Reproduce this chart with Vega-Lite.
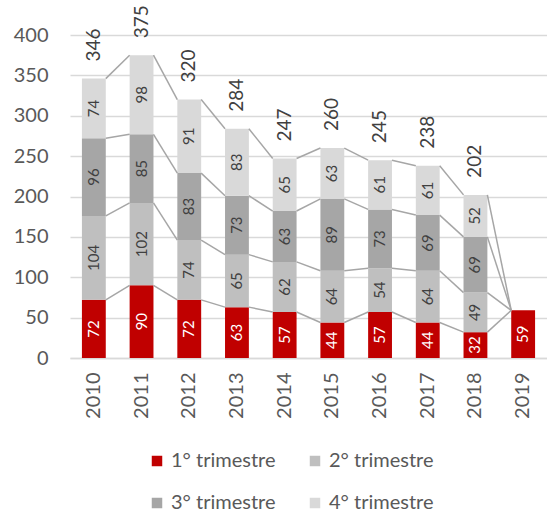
{
  "$schema": "https://vega.github.io/schema/vega-lite/v6.json",
  "width": 477,
  "height": 323,
  "autosize": {"type": "none"},
  "padding": {"left": 70, "top": 35, "right": 0, "bottom": 158},
  "background": "white",
  "config": {
    "font": "Lato",
    "view": {"stroke": null},
    "axis": {"labelFont": "Lato", "labelColor": "#595959", "titleColor": "#595959"}
  },
  "data": {
    "values": [
      {"year": "2010", "q": "1° trimestre", "v": 72},
      {"year": "2010", "q": "2° trimestre", "v": 104},
      {"year": "2010", "q": "3° trimestre", "v": 96},
      {"year": "2010", "q": "4° trimestre", "v": 74},
      {"year": "2011", "q": "1° trimestre", "v": 90},
      {"year": "2011", "q": "2° trimestre", "v": 102},
      {"year": "2011", "q": "3° trimestre", "v": 85},
      {"year": "2011", "q": "4° trimestre", "v": 98},
      {"year": "2012", "q": "1° trimestre", "v": 72},
      {"year": "2012", "q": "2° trimestre", "v": 74},
      {"year": "2012", "q": "3° trimestre", "v": 83},
      {"year": "2012", "q": "4° trimestre", "v": 91},
      {"year": "2013", "q": "1° trimestre", "v": 63},
      {"year": "2013", "q": "2° trimestre", "v": 65},
      {"year": "2013", "q": "3° trimestre", "v": 73},
      {"year": "2013", "q": "4° trimestre", "v": 83},
      {"year": "2014", "q": "1° trimestre", "v": 57},
      {"year": "2014", "q": "2° trimestre", "v": 62},
      {"year": "2014", "q": "3° trimestre", "v": 63},
      {"year": "2014", "q": "4° trimestre", "v": 65},
      {"year": "2015", "q": "1° trimestre", "v": 44},
      {"year": "2015", "q": "2° trimestre", "v": 64},
      {"year": "2015", "q": "3° trimestre", "v": 89},
      {"year": "2015", "q": "4° trimestre", "v": 63},
      {"year": "2016", "q": "1° trimestre", "v": 57},
      {"year": "2016", "q": "2° trimestre", "v": 54},
      {"year": "2016", "q": "3° trimestre", "v": 73},
      {"year": "2016", "q": "4° trimestre", "v": 61},
      {"year": "2017", "q": "1° trimestre", "v": 44},
      {"year": "2017", "q": "2° trimestre", "v": 64},
      {"year": "2017", "q": "3° trimestre", "v": 69},
      {"year": "2017", "q": "4° trimestre", "v": 61},
      {"year": "2018", "q": "1° trimestre", "v": 32},
      {"year": "2018", "q": "2° trimestre", "v": 49},
      {"year": "2018", "q": "3° trimestre", "v": 69},
      {"year": "2018", "q": "4° trimestre", "v": 52},
      {"year": "2019", "q": "1° trimestre", "v": 59},
      {"year": "2019", "q": "2° trimestre", "v": 0},
      {"year": "2019", "q": "3° trimestre", "v": 0},
      {"year": "2019", "q": "4° trimestre", "v": 0}
    ]
  },
  "encoding": {
    "x": {
      "field": "year",
      "type": "ordinal",
      "scale": {"paddingInner": 0.5, "paddingOuter": 0.25},
      "axis": {
        "title": null,
        "labelAngle": -90,
        "labelFontSize": 20,
        "labelPadding": 14,
        "ticks": false,
        "domainColor": "#D9D9D9",
        "domainWidth": 1.5,
        "grid": false
      }
    }
  },
  "layer": [
    {
      "mark": {"type": "bar"},
      "encoding": {
        "y": {
          "field": "v",
          "type": "quantitative",
          "stack": "zero",
          "scale": {"domain": [0, 400], "nice": false},
          "axis": {
            "title": null,
            "values": [0, 50, 100, 150, 200, 250, 300, 350, 400],
            "labelFontSize": 20,
            "labelPadding": 22,
            "ticks": false,
            "domain": false,
            "gridColor": "#D9D9D9",
            "gridWidth": 1.5
          }
        },
        "order": {"field": "q"},
        "color": {
          "field": "q",
          "type": "nominal",
          "scale": {
            "domain": ["1° trimestre", "2° trimestre", "3° trimestre", "4° trimestre"],
            "range": ["#C00000", "#BFBFBF", "#A6A6A6", "#D9D9D9"]
          },
          "legend": {
            "title": null,
            "orient": "none",
            "legendX": 77,
            "legendY": 416,
            "columns": 2,
            "direction": "horizontal",
            "symbolType": "square",
            "symbolSize": 110,
            "symbolStrokeWidth": 0,
            "labelFont": "Lato",
            "labelFontSize": 20,
            "labelColor": "#595959",
            "labelOffset": 4,
            "columnPadding": 29,
            "rowPadding": 22,
            "padding": 0
          }
        }
      }
    },
    {
      "transform": [
        {"window": [{"op": "sum", "field": "v", "as": "cum"}], "groupby": ["year"], "sort": [{"field": "q"}], "frame": [null, 0]},
        {"window": [{"op": "lead", "field": "cum", "as": "nextCum"}, {"op": "lead", "field": "year", "as": "nextYear"}], "groupby": ["q"], "sort": [{"field": "year"}]},
        {"filter": "datum.nextYear != null"}
      ],
      "mark": {"type": "rule", "color": "#A6A6A6", "strokeWidth": 1.5},
      "encoding": {
        "x": {"field": "year", "type": "ordinal", "bandPosition": 1},
        "x2": {"field": "nextYear", "bandPosition": 0},
        "y": {"field": "cum", "type": "quantitative"},
        "y2": {"field": "nextCum"}
      }
    },
    {
      "transform": [{"filter": "datum.v > 0"}],
      "mark": {"type": "text", "angle": 270, "align": "center", "baseline": "middle", "fontSize": 15, "font": "Lato"},
      "encoding": {
        "y": {"field": "v", "type": "quantitative", "stack": "zero", "bandPosition": 0.5},
        "order": {"field": "q"},
        "detail": {"field": "q"},
        "text": {"field": "v", "type": "quantitative"},
        "color": {
          "condition": {"test": "datum.q === '1° trimestre'", "value": "white"},
          "value": "#404040"
        }
      }
    },
    {
      "transform": [
        {"filter": "datum.year != '2019'"},
        {"aggregate": [{"op": "sum", "field": "v", "as": "total"}], "groupby": ["year"]}
      ],
      "mark": {"type": "text", "angle": 270, "align": "left", "baseline": "middle", "dx": 17, "fontSize": 19, "font": "Lato", "color": "#404040"},
      "encoding": {
        "y": {"field": "total", "type": "quantitative"},
        "text": {"field": "total", "type": "quantitative"}
      }
    }
  ]
}
